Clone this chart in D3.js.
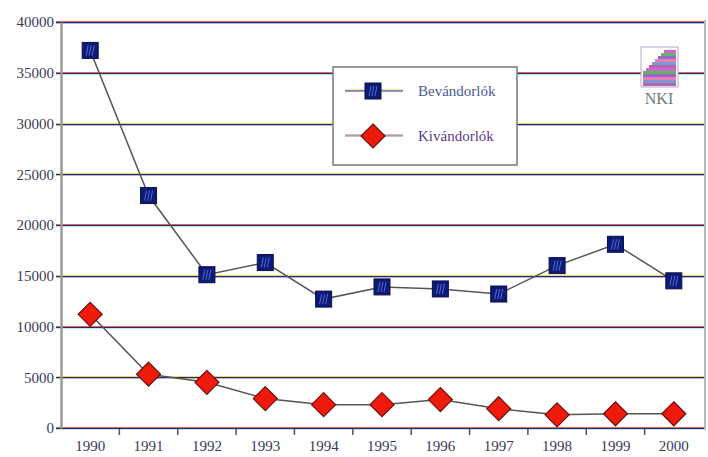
<!DOCTYPE html>
<html>
<head>
<meta charset="utf-8">
<script src="https://cdn.jsdelivr.net/npm/d3@7"></script>
<style>
  body { margin: 0; background: #fff; }
  text { font-family: "Liberation Serif", "DejaVu Serif", serif; }
</style>
</head>
<body>
<div id="chart"></div>
<script>
var years = ["1990", "1991", "1992", "1993", "1994", "1995", "1996", "1997", "1998", "1999", "2000"];
var bevandorlok = [37200, 22900, 15100, 16300, 12700, 13900, 13700, 13200, 16000, 18100, 14500];
var kivandorlok = [11200, 5300, 4500, 2900, 2300, 2300, 2800, 1900, 1300, 1400, 1400];
var yTicks = [0, 5000, 10000, 15000, 20000, 25000, 30000, 35000, 40000];
var seriesNames = ["Bevándorlók", "Kivándorlók"];

function init() {
    var w = 708, h = 457;
    var left = 61, right = 703, top = 22, bottom = 428;

    var svg = d3.select("#chart")
        .append("svg")
        .attr("width", w)
        .attr("height", h);

    var xScale = d3.scaleBand()
        .domain(years)
        .range([left, right]);

    var yScale = d3.scaleLinear()
        .domain([0, 40000])
        .range([bottom, top]);

    // gridlines, scanned look: a dark line with a coloured fringe
    var fringe = ["#e03030", "#e8d020", "#e03030", "#e8d020", "#e03030", "#e8d020", "#e8d020", "#e03030", "#e03030"];
    var under = ["#30c8d0", "#2030c0", "#30c8d0", "#2030c0", "#30c8d0", "#2030c0", "#2030c0", "#30c8d0", "#2030c0"];
    var grid = svg.append("g");
    yTicks.forEach(function (t, i) {
        var y = Math.round(yScale(t));
        grid.append("line").attr("x1", left - 5).attr("x2", right + 2)
            .attr("y1", y - 0.5).attr("y2", y - 0.5)
            .attr("stroke", fringe[i]).attr("stroke-width", 1).attr("opacity", 0.75);
        grid.append("line").attr("x1", left - 5).attr("x2", right + 2)
            .attr("y1", y + 0.5).attr("y2", y + 0.5)
            .attr("stroke", "#2a2a60").attr("stroke-width", 1);
        grid.append("line").attr("x1", left - 5).attr("x2", right + 2)
            .attr("y1", y + 1.5).attr("y2", y + 1.5)
            .attr("stroke", under[i]).attr("stroke-width", 1).attr("opacity", 0.35);
    });

    // y axis
    var yAxis = d3.axisLeft(yScale).tickValues(yTicks).tickSize(0).tickPadding(7)
        .tickFormat(d3.format("d"));
    var gy = svg.append("g")
        .attr("transform", `translate(${left},0)`)
        .call(yAxis);
    gy.select(".domain").attr("stroke", "#999").attr("stroke-width", 2.5);
    gy.selectAll("text").attr("font-size", "15px").attr("fill", "#3a3a58")
        .style("font-family", "'Liberation Serif', serif");

    // x axis
    var xAxis = d3.axisBottom(xScale).tickSize(0).tickPadding(12);
    var gx = svg.append("g")
        .attr("transform", `translate(0,${bottom})`)
        .call(xAxis);
    gx.select(".domain").remove();
    gx.selectAll("text").attr("font-size", "15px").attr("fill", "#3a3a58")
        .style("font-family", "'Liberation Serif', serif");
    // ticks at band boundaries
    gx.selectAll(".bound")
        .data(years.slice(1))
        .enter()
        .append("line")
        .attr("x1", d => xScale(d)).attr("x2", d => xScale(d))
        .attr("y1", 1).attr("y2", 7)
        .attr("stroke", "#555").attr("stroke-width", 1.5);

    // right border
    svg.append("line").attr("x1", right + 2).attr("x2", right + 2)
        .attr("y1", top - 2).attr("y2", bottom + 2)
        .attr("stroke", "#bbb").attr("stroke-width", 2);

    var cx = d => xScale(d) + xScale.bandwidth() / 2;
    var line = d3.line().x(d => cx(d.year)).y(d => yScale(d.v));

    var bev = years.map((y, i) => ({ year: y, v: bevandorlok[i] }));
    var kiv = years.map((y, i) => ({ year: y, v: kivandorlok[i] }));

    svg.append("path").datum(bev).attr("d", line)
        .attr("fill", "none").attr("stroke", "#555").attr("stroke-width", 1.5);
    svg.append("path").datum(kiv).attr("d", line)
        .attr("fill", "none").attr("stroke", "#555").attr("stroke-width", 1.5);

    function square(g, x, y) {
        g.append("rect").attr("x", x - 8).attr("y", y - 8)
            .attr("width", 16).attr("height", 16)
            .attr("fill", "#0c1a7a").attr("stroke", "#0a0f40").attr("stroke-width", 1);
        [-3, 0, 3].forEach(function (dx) {
            g.append("line").attr("x1", x + dx + 1).attr("x2", x + dx - 1)
                .attr("y1", y - 5).attr("y2", y + 5)
                .attr("stroke", "#5a6ad0").attr("stroke-width", 1);
        });
    }
    function diamond(g, x, y) {
        g.append("path")
            .attr("d", `M${x},${y - 12}L${x + 12},${y}L${x},${y + 12}L${x - 12},${y}Z`)
            .attr("fill", "#f01a0a").attr("stroke", "#6a1010").attr("stroke-width", 1.2);
    }

    var gm = svg.append("g");
    bev.forEach(d => square(gm, cx(d.year), yScale(d.v)));
    kiv.forEach(d => diamond(gm, cx(d.year), yScale(d.v)));

    // legend
    var lg = svg.append("g");
    lg.append("rect").attr("x", 333).attr("y", 67).attr("width", 184).attr("height", 98)
        .attr("fill", "#fff").attr("stroke", "#777").attr("stroke-width", 1.5);
    lg.append("line").attr("x1", 345).attr("x2", 403).attr("y1", 90).attr("y2", 90)
        .attr("stroke", "#e8d020").attr("stroke-width", 1);
    lg.append("line").attr("x1", 345).attr("x2", 403).attr("y1", 91).attr("y2", 91)
        .attr("stroke", "#2030a0").attr("stroke-width", 1);
    square(lg, 373, 91);
    lg.append("text").attr("x", 418).attr("y", 96).attr("font-size", "15px")
        .attr("fill", "#4a5a9a").text(seriesNames[0]);
    lg.append("line").attr("x1", 345).attr("x2", 403).attr("y1", 135).attr("y2", 135)
        .attr("stroke", "#e06060").attr("stroke-width", 1);
    lg.append("line").attr("x1", 345).attr("x2", 403).attr("y1", 136).attr("y2", 136)
        .attr("stroke", "#5a9ab0").attr("stroke-width", 1);
    diamond(lg, 373, 136);
    lg.append("text").attr("x", 418).attr("y", 141).attr("font-size", "15px")
        .attr("fill", "#5a3a8a").text(seriesNames[1]);

    // NKI logo
    var logo = svg.append("g");
    logo.append("rect").attr("x", 641).attr("y", 47).attr("width", 37).attr("height", 40)
        .attr("fill", "#fff").attr("stroke", "#b8a8c8").attr("stroke-width", 1);
    var stripeCols = ["#c040c0", "#40a040", "#8040c0", "#e060a0", "#6080c0", "#a040a0"];
    d3.range(12).forEach(function (i) {
        var y = 50 + i * 3;
        var x0 = 664 - Math.min(i, 7) * 3;
        logo.append("rect").attr("x", x0).attr("y", y).attr("width", 676 - x0).attr("height", 3)
            .attr("fill", stripeCols[i % stripeCols.length]).attr("opacity", 0.8);
    });
    logo.append("text").attr("x", 659).attr("y", 104).attr("text-anchor", "middle")
        .attr("font-size", "16px").attr("fill", "#707878").text("NKI");
}

window.onload = init;
</script>
</body>
</html>
